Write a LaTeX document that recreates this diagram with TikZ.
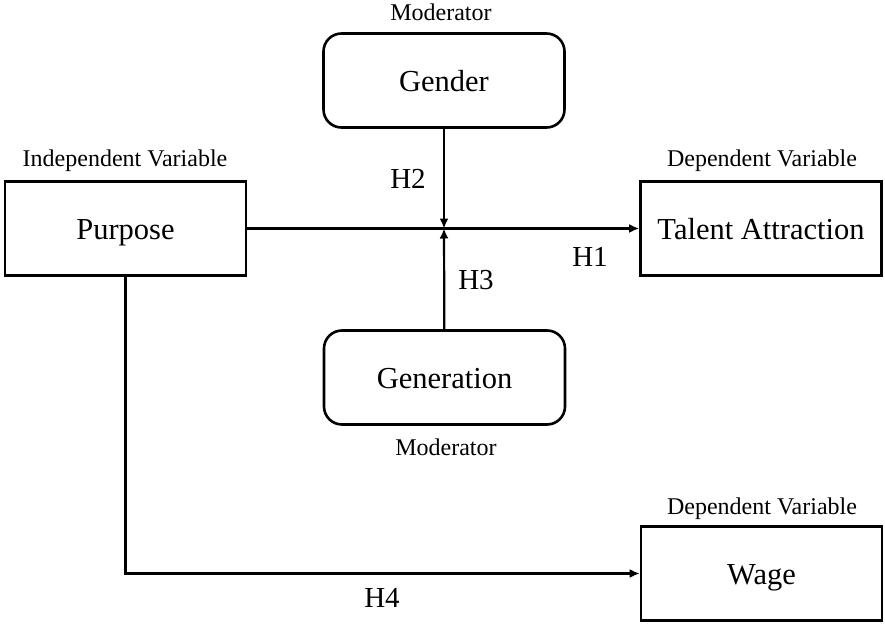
\documentclass[tikz,border=0pt]{standalone}
\usepackage{fontspec}
\setmainfont{Liberation Serif}
\usetikzlibrary{arrows.meta,positioning}
\tikzset{
  varbox/.style={draw,line width=2.6pt,minimum width=241pt,minimum height=94pt,inner sep=0pt,
    text height=22pt,text depth=0pt,font=\fontsize{30.5}{36}\selectfont},
  modbox/.style={varbox,rounded corners=18pt},
  rolelabel/.style={anchor=base,inner sep=0pt,font=\fontsize{24}{28}\selectfont},
  hyplabel/.style={anchor=base,inner sep=0pt,font=\fontsize{29}{34}\selectfont},
  arr/.style={line width=2.2pt,-{Latex[length=10pt,width=9pt]}}
}
\begin{document}
\begin{tikzpicture}[x=1pt,y=-1pt]
    \useasboundingbox (0,0) rectangle (885,623);

    \node[modbox] (gender) at (444,80.5) {Gender};
    \node[modbox] (generation) at (444.5,377.5) {Generation};
    \node[varbox] (purpose) at (125.5,228.5) {Purpose};
    \node[varbox] (talent) at (761,228.5) {Talent Attraction};
    \node[varbox] (wage) at (761.5,573.5) {Wage};

    \node[rolelabel] (modtop) at (441,21) {Moderator};
    \node[rolelabel] (modbot) at (446,455) {Moderator};
    \node[rolelabel] (indep) at (125,166) {Independent Variable};
    \node[rolelabel] (dep1) at (762,166) {Dependent Variable};
    \node[rolelabel] (dep2) at (762,514) {Dependent Variable};

    \coordinate (cross) at (gender.south |- purpose.east);

    \draw[arr] (purpose) -- (talent);
    \draw[arr] (gender) -- (cross);
    \draw[arr] (generation) -- (cross);
    \draw[arr] (purpose.south) |- (wage.west);

    \node[hyplabel] (h1) at (590,266) {H1};
    \node[hyplabel] (h2) at (408,188) {H2};
    \node[hyplabel] (h3) at (476,289) {H3};
    \node[hyplabel] (h4) at (382,607) {H4};
\end{tikzpicture}
\end{document}
